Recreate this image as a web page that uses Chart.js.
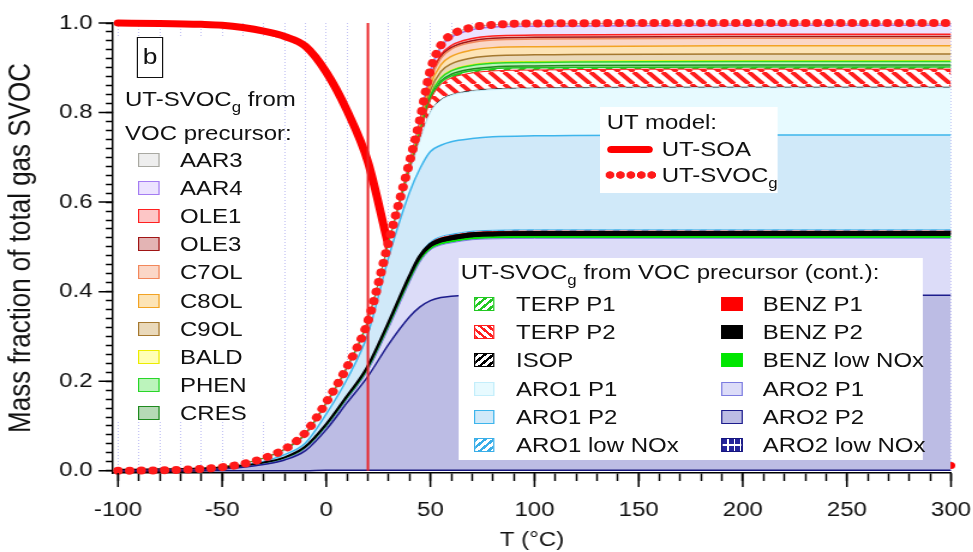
<!DOCTYPE html>
<html>
<head>
<meta charset="utf-8">
<title>UT-SVOCg fraction vs temperature</title>
<script src="https://cdn.jsdelivr.net/npm/chart.js"></script>
<style>
  html, body { margin:0; padding:0; background:#fff; width:973px; height:552px; overflow:hidden; }
  #stage { position:absolute; left:0; top:0; width:811px; height:552px; transform:scaleX(1.2); transform-origin:0 0;
           font-family:"Liberation Sans", Arial, sans-serif; color:#111; }
  #chart { position:absolute; left:0; top:0; }
  .panel { position:absolute; background:#fff; }
  .t { position:absolute; font-size:20px; line-height:24px; white-space:nowrap; }
  .t sub { font-size:14px; line-height:0; vertical-align:-6px; }
  .sw { position:absolute; box-sizing:border-box; border-style:solid; border-width:1.5px; }
</style>
</head>
<body>
<div id="stage">
  <canvas id="chart" width="811" height="552"></canvas>
  <div id="legends"></div>
</div>
<script>
// ---------------- data ----------------
const temps = [-100, -80, -60, -50, -40, -30, -20, -10, 0, 10, 20, 30, 40, 45, 50, 55, 60, 70, 80, 100, 200, 300];

// stacked contributions (fraction of total gas SVOC), bottom layer first
const aro2LowNOx = [0, 0, 0, 0, 0, 0, 0, 0, 0.001, 0.001, 0.001, 0.001, 0.001, 0.001, 0.001, 0.001, 0.001, 0.001, 0.001, 0.001, 0.001, 0.001];
const aro2P2     = [0, 0.001, 0.002, 0.004, 0.008, 0.014, 0.024, 0.045, 0.091, 0.151, 0.210, 0.282, 0.343, 0.365, 0.379, 0.386, 0.389, 0.391, 0.391, 0.391, 0.391, 0.391];
const aro2P1     = [0, 0, 0, 0, 0, 0.001, 0.002, 0.004, 0.005, 0.007, 0.013, 0.036, 0.077, 0.100, 0.113, 0.117, 0.119, 0.124, 0.126, 0.127, 0.127, 0.127];
const benzLowNOx = [0, 0, 0, 0, 0, 0, 0.0005, 0.0008, 0.0012, 0.0015, 0.002, 0.0028, 0.0035, 0.0038, 0.0038, 0.004, 0.004, 0.004, 0.004, 0.004, 0.004, 0.004];
const benzP2     = [0, 0, 0.001, 0.001, 0.001, 0.001, 0.001, 0.0015, 0.0025, 0.003, 0.004, 0.0055, 0.007, 0.0075, 0.0075, 0.008, 0.008, 0.008, 0.008, 0.008, 0.008, 0.008];
const benzP1     = [0, 0, 0, 0, 0, 0, 0.0005, 0.0007, 0.0012, 0.0015, 0.002, 0.0027, 0.0035, 0.0037, 0.0037, 0.004, 0.004, 0.004, 0.004, 0.004, 0.004, 0.004];
const aro1LowNOx = [0, 0, 0, 0, 0, 0, 0, 0, 0.001, 0.001, 0.001, 0.002, 0.002, 0.002, 0.003, 0.003, 0.003, 0.003, 0.003, 0.003, 0.003, 0.003];
const aro1P2     = [0, 0, 0.001, 0.002, 0.003, 0.005, 0.008, 0.010, 0.024, 0.039, 0.073, 0.146, 0.185, 0.192, 0.202, 0.204, 0.207, 0.207, 0.209, 0.210, 0.212, 0.212];
const aro1P1     = [0, 0, 0, 0.001, 0.002, 0.005, 0.009, 0.016, 0.019, 0.020, 0.021, 0.023, 0.042, 0.062, 0.087, 0.100, 0.103, 0.105, 0.105, 0.105, 0.105, 0.105];
const isop       = [0, 0, 0, 0, 0, 0, 0, 0.0001, 0.0001, 0.0001, 0.0001, 0.0001, 0.0003, 0.0007, 0.0013, 0.0017, 0.0019, 0.002, 0.002, 0.002, 0.002, 0.002];
const terpP2     = [0, 0, 0, 0, 0.0003, 0.0006, 0.0008, 0.0016, 0.0018, 0.0019, 0.0022, 0.0025, 0.0069, 0.0132, 0.0262, 0.0339, 0.0372, 0.0394, 0.04, 0.04, 0.04, 0.04];
const terpP1     = [0, 0, 0, 0, 0, 0.0001, 0.0001, 0.0002, 0.0002, 0.0002, 0.0003, 0.0003, 0.0009, 0.0017, 0.0033, 0.0042, 0.0047, 0.0049, 0.005, 0.005, 0.005, 0.005];
const cres       = [0, 0, 0, 0, 0, 0.0001, 0.0001, 0.0002, 0.0002, 0.0002, 0.0002, 0.0002, 0.0007, 0.0013, 0.0026, 0.0034, 0.0037, 0.0039, 0.004, 0.004, 0.004, 0.004];
const phen       = [0, 0, 0, 0, 0.0001, 0.0001, 0.0002, 0.0003, 0.0004, 0.0004, 0.0004, 0.0005, 0.0014, 0.0026, 0.0052, 0.0068, 0.0074, 0.0079, 0.008, 0.008, 0.008, 0.008];
const bald       = [0, 0, 0, 0, 0, 0, 0, 0.0001, 0.0001, 0.0001, 0.0001, 0.0001, 0.0003, 0.0007, 0.0013, 0.0017, 0.0019, 0.002, 0.002, 0.002, 0.002, 0.002];
const c9ol       = [0, 0, 0, 0, 0.0001, 0.0002, 0.0003, 0.0006, 0.0007, 0.0007, 0.0008, 0.0009, 0.0026, 0.005, 0.0098, 0.0127, 0.014, 0.0148, 0.015, 0.015, 0.015, 0.015];
const c8ol       = [0, 0, 0, 0, 0.0001, 0.0003, 0.0004, 0.0007, 0.0008, 0.0009, 0.001, 0.0011, 0.0031, 0.006, 0.0118, 0.0153, 0.0168, 0.0177, 0.018, 0.018, 0.018, 0.018];
const c7ol       = [0, 0, 0, 0, 0.0001, 0.0002, 0.0004, 0.0007, 0.0007, 0.0008, 0.0009, 0.0011, 0.0029, 0.0056, 0.0111, 0.0144, 0.0158, 0.0168, 0.017, 0.017, 0.017, 0.017];
const ole3       = [0, 0, 0, 0, 0, 0.0001, 0.0001, 0.0002, 0.0002, 0.0002, 0.0002, 0.0002, 0.0007, 0.0013, 0.0026, 0.0034, 0.0037, 0.0039, 0.004, 0.004, 0.004, 0.004];
const ole1       = [0, 0, 0, 0, 0, 0.0001, 0.0001, 0.0002, 0.0002, 0.0002, 0.0003, 0.0003, 0.0009, 0.0017, 0.0033, 0.0042, 0.0047, 0.0049, 0.005, 0.005, 0.005, 0.005];
const aar4       = [0, 0, 0, 0, 0.0001, 0.0003, 0.0004, 0.0008, 0.0009, 0.001, 0.0011, 0.0012, 0.0034, 0.0066, 0.0131, 0.017, 0.0186, 0.0197, 0.02, 0.02, 0.02, 0.02];
const aar3       = [0, 0, 0, 0, 0, 0.0001, 0.0001, 0.0002, 0.0002, 0.0002, 0.0003, 0.0003, 0.0009, 0.0017, 0.0033, 0.0042, 0.0047, 0.0049, 0.005, 0.005, 0.005, 0.005];

// UT model curves
const utSOA   = [1.0, 0.999, 0.997, 0.995, 0.99, 0.982, 0.97, 0.948, 0.89, 0.804, 0.69, 0.50, 0.32, 0.22, 0.12, 0.055, 0.03, 0.016, 0.013, 0.012, 0.012, 0.012];
const utSVOCg = [0, 0.001, 0.004, 0.008, 0.015, 0.028, 0.048, 0.085, 0.153, 0.232, 0.334, 0.512, 0.69, 0.785, 0.895, 0.95, 0.973, 0.99, 0.996, 0.999, 1.0, 1.0];
const markerTemp = 20;

// axis tick labels
const xTickValues = [-100, -50, 0, 50, 100, 150, 200, 250, 300];
const xTickLabels = ['-100', '-50', '0', '50', '100', '150', '200', '250', '300'];
const yTickValues = [0, 0.2, 0.4, 0.6, 0.8, 1.0];
const yTickLabels = ['0.0', '0.2', '0.4', '0.6', '0.8', '1.0'];

// series names: stack order (bottom -> top) and legend groups
const stackNames  = ['ARO2 low NOx', 'ARO2 P2', 'ARO2 P1', 'BENZ low NOx', 'BENZ P2', 'BENZ P1', 'ARO1 low NOx', 'ARO1 P2', 'ARO1 P1',
                     'ISOP', 'TERP P2', 'TERP P1', 'CRES', 'PHEN', 'BALD', 'C9OL', 'C8OL', 'C7OL', 'OLE3', 'OLE1', 'AAR4', 'AAR3'];
const stackValues = [aro2LowNOx, aro2P2, aro2P1, benzLowNOx, benzP2, benzP1, aro1LowNOx, aro1P2, aro1P1,
                     isop, terpP2, terpP1, cres, phen, bald, c9ol, c8ol, c7ol, ole3, ole1, aar4, aar3];
const leftLegendNames = ['AAR3', 'AAR4', 'OLE1', 'OLE3', 'C7OL', 'C8OL', 'C9OL', 'BALD', 'PHEN', 'CRES'];
const contCol1Names   = ['TERP P1', 'TERP P2', 'ISOP', 'ARO1 P1', 'ARO1 P2', 'ARO1 low NOx'];
const contCol2Names   = ['BENZ P1', 'BENZ P2', 'BENZ low NOx', 'ARO2 P1', 'ARO2 P2', 'ARO2 low NOx'];

// ---------------- styles ----------------
const styles = {
  'ARO2 low NOx': {fill: '#23239a', line: '#14147e', bw: 1.5, grid: true},
  'ARO2 P2':      {fill: '#bcbce4', line: '#1c1c8c', bw: 1.5},
  'ARO2 P1':      {fill: '#dcdcf8', line: '#7c7ce0', bw: 1},
  'BENZ low NOx': {fill: '#00e600', line: '#00e600', bw: 1},
  'BENZ P2':      {fill: '#000000', line: '#000000', bw: 4},
  'BENZ P1':      {fill: '#ff0000', line: '#ff0000', bw: 1},
  'ARO1 low NOx': {fill: '#ffffff', line: '#3aaee8', bw: 1, hatch: '/'},
  'ARO1 P2':      {fill: '#d0e9f9', line: '#3db5ec', bw: 1.5},
  'ARO1 P1':      {fill: '#e7faff', line: '#c4eefb', bw: 1},
  'ISOP':         {fill: '#ffffff', line: '#000000', bw: 0.5, hatch: '/'},
  'TERP P2':      {fill: '#ffffff', line: '#ff1e1e', bw: 1, hatch: '\\'},
  'TERP P1':      {fill: '#ffffff', line: '#22c822', bw: 1.5, hatch: '/'},
  'CRES':         {fill: '#b6dab6', line: '#1f8a1f', bw: 1.5},
  'PHEN':         {fill: '#bcf4bc', line: '#29d629', bw: 1.5},
  'BALD':         {fill: '#ffffb5', line: '#ecec00', bw: 1},
  'C9OL':         {fill: '#ead9ba', line: '#a5782f', bw: 1.5},
  'C8OL':         {fill: '#fde4b6', line: '#f2a324', bw: 1.5},
  'C7OL':         {fill: '#fbd7c7', line: '#f2875b', bw: 1.5},
  'OLE3':         {fill: '#e3b4b4', line: '#a01515', bw: 1.5},
  'OLE1':         {fill: '#fdc6c6', line: '#ff2020', bw: 1.5},
  'AAR4':         {fill: '#ece3ff', line: '#a47cf2', bw: 1.5},
  'AAR3':         {fill: '#eeeeee', line: '#a9a9a2', bw: 1}
};

function canvasHatch(color, dir) {
  const n = 12, c = document.createElement('canvas');
  c.width = n; c.height = n;
  const g = c.getContext('2d');
  g.fillStyle = '#fff'; g.fillRect(0, 0, n, n);
  g.strokeStyle = color; g.lineWidth = 4; g.beginPath();
  for (let k = -n; k <= 2 * n; k += n) {
    if (dir === '/') { g.moveTo(k, n); g.lineTo(k + n, 0); }
    else { g.moveTo(k, 0); g.lineTo(k + n, n); }
  }
  g.stroke();
  return g.createPattern(c, 'repeat');
}
function canvasGrid(bg) {
  const c = document.createElement('canvas');
  c.width = 6; c.height = 6;
  const g = c.getContext('2d');
  g.fillStyle = bg; g.fillRect(0, 0, 6, 6);
  g.fillStyle = '#fff'; g.fillRect(0, 0, 6, 1); g.fillRect(0, 0, 1, 6);
  return g.createPattern(c, 'repeat');
}

Chart.defaults.font.family = '"Liberation Sans", Arial, sans-serif';
Chart.defaults.color = '#111';

const xy = arr => temps.map((t, i) => ({x: t, y: arr[i]}));

const datasets = stackNames.map((name, i) => {
  const st = styles[name];
  let bg = st.fill;
  if (st.hatch) bg = canvasHatch(st.line, st.hatch);
  if (st.grid) bg = canvasGrid(st.fill);
  return {
    label: name, data: xy(stackValues[i]), stack: 'svoc', fill: i === 0 ? 'origin' : '-1',
    backgroundColor: bg, borderColor: st.line, borderWidth: st.bw,
    pointRadius: 0, pointHoverRadius: 0, cubicInterpolationMode: 'monotone', order: 0
  };
});
datasets.push({
  label: 'UT-SOA', data: xy(utSOA), stack: 'soa', fill: false,
  borderColor: '#ff0000', borderWidth: 7, borderCapStyle: 'round', borderJoinStyle: 'round',
  pointRadius: 0, cubicInterpolationMode: 'monotone', order: 10, clip: 12
});
datasets.push({
  label: 'T marker', data: [{x: markerTemp, y: 0}, {x: markerTemp, y: 1}], stack: 'marker', fill: false,
  borderColor: '#ea2428', borderWidth: 2, pointRadius: 0, tension: 0, order: -5
});
datasets.push({
  label: 'UT-SVOCg', data: xy(utSVOCg), stack: 'total', fill: false,
  borderColor: '#ff1a1a', borderWidth: 8, borderDash: [0.01, 9.7], borderCapStyle: 'round',
  pointRadius: 0, cubicInterpolationMode: 'monotone', order: -10, clip: 12
});

const xMinor = []; for (let t = -100; t <= 300; t += 10) xMinor.push(t);
const yMinor = []; for (let k = 0; k <= 50; k++) yMinor.push(Math.round(k * 2) / 100);

const majorTicks = {
  id: 'majorTicks',
  afterDraw(chart) {
    const {ctx, scales: {x, y}} = chart;
    ctx.save();
    ctx.strokeStyle = '#000'; ctx.lineWidth = 1.5; ctx.setLineDash([]);
    ctx.beginPath();
    xTickValues.forEach(v => { const p = x.getPixelForValue(v); ctx.moveTo(p, x.top); ctx.lineTo(p, x.top + 14); });
    yTickValues.forEach(v => { const p = y.getPixelForValue(v); ctx.moveTo(y.right, p); ctx.lineTo(y.right - 12, p); });
    ctx.stroke();
    ctx.restore();
  }
};

new Chart(document.getElementById('chart'), {
  type: 'line',
  data: {datasets},
  plugins: [majorTicks],
  options: {
    responsive: false, animation: false, devicePixelRatio: 1, events: [],
    layout: {padding: {left: 0, right: 18.5, top: 23, bottom: 0}},
    plugins: {legend: {display: false}, tooltip: {enabled: false}},
    scales: {
      x: {
        type: 'linear', min: -102.4, max: 300,
        afterBuildTicks: ax => { ax.ticks = xMinor.map(v => ({value: v})); },
        afterFit: s => { s.height = 79; s.paddingLeft = 0; s.paddingRight = 0; },
        ticks: {
          autoSkip: false, maxRotation: 0, padding: 17.5, font: {size: 20}, color: '#111',
          callback: v => { const i = xTickValues.indexOf(v); return i >= 0 ? xTickLabels[i] : ''; }
        },
        grid: {drawOnChartArea: true, color: 'rgba(150,150,235,0.6)', lineWidth: 1, tickLength: 8, tickColor: '#000', tickWidth: 1.5},
        border: {display: true, color: '#000', width: 1.5, dash: [1, 2]},
        title: {display: true, text: 'T (°C)', font: {size: 20}, color: '#111', padding: {top: 0, bottom: 0}}
      },
      y: {
        type: 'linear', stacked: true, min: -0.005, max: 1.0,
        afterBuildTicks: ax => { ax.ticks = yMinor.map(v => ({value: v})); },
        afterFit: s => { s.width = 94.17; s.paddingTop = 0; s.paddingBottom = 0; },
        ticks: {
          autoSkip: false, padding: 11, font: {size: 20}, color: '#111',
          callback: v => { const i = yTickValues.findIndex(t => Math.abs(t - v) < 1e-6); return i >= 0 ? yTickLabels[i] : ''; }
        },
        grid: {drawOnChartArea: false, tickLength: 6, tickColor: '#000', tickWidth: 1.5},
        border: {display: true, color: '#000', width: 1.5},
        title: {display: true, text: 'Mass fraction of total gas SVOC', font: {size: 26}, color: '#111', padding: {top: 2.5, bottom: 0}}
      }
    }
  }
});

// ---------------- legends (HTML text) ----------------
const layer = document.getElementById('legends');
function add(cls, css, html) {
  const d = document.createElement('div');
  if (cls) d.className = cls;
  d.style.cssText = css;
  if (html !== undefined) d.innerHTML = html;
  layer.appendChild(d);
  return d;
}
function swatchBg(st) {
  if (st.grid) return `background-color:${st.fill};background-image:linear-gradient(180deg,transparent 0 40%,#fff 40% 58%,transparent 58%),repeating-linear-gradient(90deg,transparent 0 4px,#fff 4px 5.3px);`;
  if (st.hatch) return `background:repeating-linear-gradient(${st.hatch === '/' ? 135 : 45}deg,${st.line} 0 2.2px,#fff 2.2px 5px);`;
  return `background:${st.fill};`;
}
function item(name, swLeft, labelLeft, cy, w) {
  const st = styles[name];
  add('sw', `left:${swLeft}px;top:${cy - 7}px;width:${w}px;height:14px;border-color:${st.line};` + swatchBg(st));
  add('t', `left:${labelLeft}px;top:${cy - 12}px;`, name);
}

// left panel
add('panel', 'left:96px;top:37px;width:133px;height:385px;');
add('', 'position:absolute;left:113.9px;top:37.3px;width:22.2px;height:41px;box-sizing:border-box;border:1.5px solid #111;background:#fff;font-size:22px;line-height:38px;text-align:center;', 'b');
add('t', 'left:104.2px;top:87px;', 'UT-SVOC<sub>g</sub> from');
add('t', 'left:104.2px;top:121px;', 'VOC precursor:');
leftLegendNames.forEach((n, i) => item(n, 115.3, 150, 159.5 + 28.2 * i, 17.5));

// UT model panel
add('panel', 'left:500px;top:107px;width:148.3px;height:86px;');
add('t', 'left:505.6px;top:109.5px;', 'UT model:');
add('', 'position:absolute;left:505.6px;top:145.8px;width:38.8px;height:7px;border-radius:3.5px;background:#ff0000;');
add('t', 'left:551.4px;top:137.3px;', 'UT-SOA');
add('', 'position:absolute;left:504px;top:171px;width:43px;height:8px;background:radial-gradient(circle,#ff1a1a 0 3.4px,transparent 4px) 0 0/8.7px 8px repeat-x;');
add('t', 'left:551.4px;top:163px;', 'UT-SVOC<sub>g</sub>');

// continued panel
add('panel', 'left:381.9px;top:258.3px;width:387px;height:201.7px;');
add('t', 'left:383.9px;top:259.7px;', 'UT-SVOC<sub>g</sub> from VOC precursor (cont.):');
contCol1Names.forEach((n, i) => item(n, 395.3, 430, 304 + 28.2 * i, 17));
contCol2Names.forEach((n, i) => item(n, 600.6, 635.6, 304 + 28.2 * i, 18));
</script>
</body>
</html>
